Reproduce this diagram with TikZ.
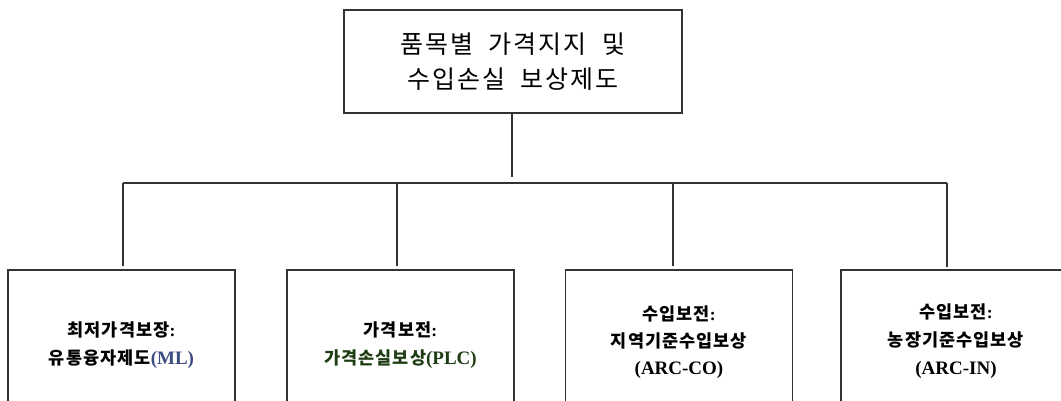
\documentclass[tikz,border=0pt]{standalone}
\usepackage{fontspec}
\setmainfont{Liberation Serif}
\newfontfamily\kr[LetterSpace=6]{Noto Sans CJK KR}
\newfontfamily\krtop[LetterSpace=8]{Noto Sans CJK KR}
\definecolor{mlblue}{HTML}{3C4B82}
\definecolor{plcgreen}{HTML}{1E3D14}
\definecolor{linegray}{HTML}{333333}
\newcommand{\wsp}{\hspace{0.62em}}
\newcommand{\lat}[1]{{\fontsize{19}{28}\selectfont #1}}
\tikzset{
  topbox/.style={draw=linegray, line width=1.2pt, minimum width=338pt, minimum height=103pt, align=center, inner sep=0pt, font=\krtop\fontsize{25}{35}\selectfont},
  leaf/.style={draw=linegray, line width=1.2pt, minimum width=227pt, minimum height=150pt, align=center, inner sep=0pt, font=\fontsize{17.5}{28}\selectfont\bfseries},
  conn/.style={draw=linegray, line width=1.2pt},
}
\begin{document}
\begin{tikzpicture}[x=1pt,y=-1pt]
\useasboundingbox (0,0) rectangle (1061,401);
\clip (0,0) rectangle (1061,401);
\node[topbox] (top) at (513,61.5) {품목별\wsp 가격지지\wsp 및\\수입손실\wsp 보상제도};
\node[leaf] (b1) at (121.5,345) {{\kr 최저가격보장}:\\{\kr 유통융자제도}\textcolor{mlblue}{\lat{(ML)}}};
\node[leaf] (b2) at (400.5,345) {{\kr 가격보전}:\\\textcolor{plcgreen}{{\kr 가격손실보상}\lat{(PLC)}}};
\node[leaf, minimum height=144pt, font=\fontsize{17.5}{27}\selectfont\bfseries] (b3) at (679,342) {{\kr 수입보전}:\\{\kr 지역기준수입보상}\\\lat{(ARC-CO)}};
\node[leaf, minimum width=230pt, minimum height=142pt, font=\fontsize{17.5}{28}\selectfont\bfseries] (b4) at (956,341) {{\kr 수입보전}:\\{\kr 농장기준수입보상}\\\lat{(ARC-IN)}};
\coordinate (t0) at (512,177);
\coordinate (h1) at (123,183);
\coordinate (h2) at (397,183);
\coordinate (h3) at (673,183);
\coordinate (h4) at (947,183);
\coordinate (v1) at (123,266);
\coordinate (v2) at (397,266);
\coordinate (v3) at (673,266);
\coordinate (v4) at (947,267);
\draw[conn] (top.south -| t0) -- (t0);
\draw[conn] (h1) -- (h4);
\draw[conn] (h1) -- (v1);
\draw[conn] (h2) -- (v2);
\draw[conn] (h3) -- (v3);
\draw[conn] (h4) -- (v4);
\end{tikzpicture}
\end{document}
